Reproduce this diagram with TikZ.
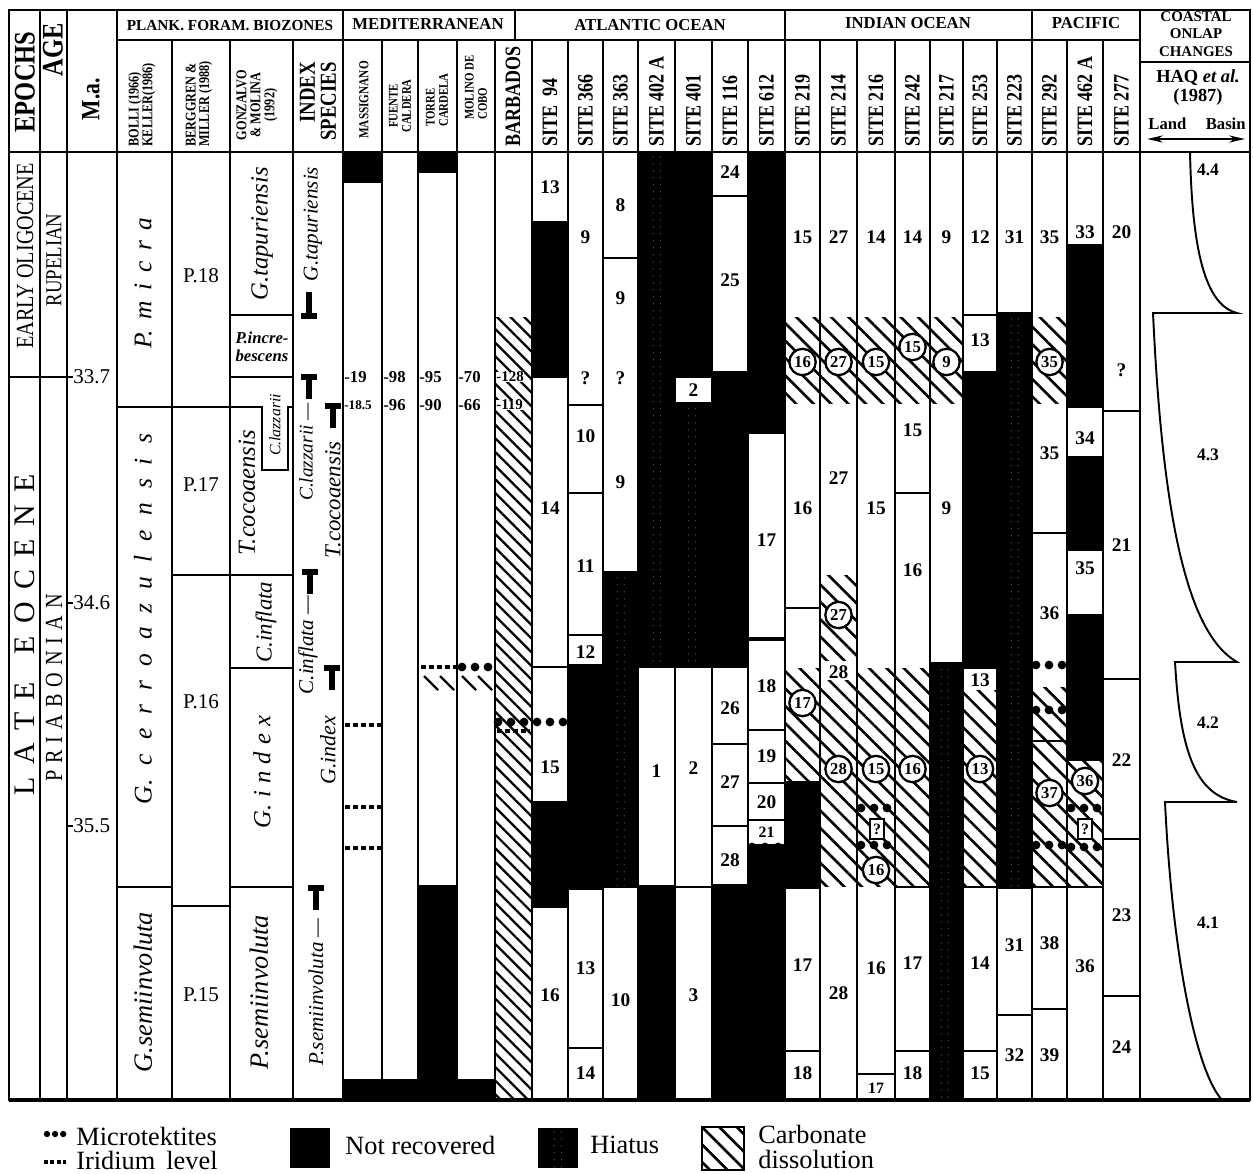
\documentclass[tikz,border=0pt]{standalone}
\usepackage{fontspec}
\setmainfont{Liberation Serif}
\newfontfamily\cond{Liberation Serif}[FakeStretch=0.82]
\usetikzlibrary{patterns.meta,arrows.meta}

\newcommand{\gap}{\hspace{7pt}}
% cells of the core columns
\newcommand{\cel}[4]{\draw[cell] (#1,#3) rectangle (#2,#4);}
\newcommand{\blk}[4]{\fill[black] (#1,#3) rectangle (#2,#4);}
\newcommand{\hiat}[4]{\fill[black] (#1,#3) rectangle (#2,#4);
  \fill[stipple] ({(#1+#2)/2-6},#3) rectangle ({(#1+#2)/2+6},#4);}
\newcommand{\carbon}[4]{\fill[carb] (#1,#3) rectangle (#2,#4);}
% range markers
\newcommand{\rtop}[2]{\draw[tmark] (#1-8,#2) -- (#1+8,#2) (#1,#2) -- (#1,#2+22);}
\newcommand{\rbase}[2]{\draw[tmark] (#1-8,#2) -- (#1+8,#2) (#1,#2) -- (#1,#2-24);}

\tikzset{
  rule/.style={line width=1.1pt},
  cell/.style={draw, fill=white, line width=1.1pt},
  carb/.style={pattern={Lines[angle=-45,distance=7pt,line width=1.5pt]}},
  denscarb/.style={pattern={Lines[angle=-45,distance=5.5pt,line width=1.3pt]}},
  stipple/.style={pattern={Dots[radius=0.3pt,distance=4pt]}, pattern color=gray!70},
  micro/.style={line width=5pt, line cap=round, dash pattern=on 0pt off 7.4pt},
  irid/.style={line width=2.3pt, dash pattern=on 2.8pt off 1.7pt},
  tmark/.style={line width=3pt},
  numlab/.style={font=\bfseries\fontsize{11}{11}\selectfont, inner sep=0.5pt},
  circlab/.style={circle, draw, fill=white, line width=1.3pt, inner sep=0pt, minimum size=15pt, font=\bfseries\fontsize{9.5}{9.5}\selectfont},
  qbox/.style={draw, fill=white, line width=1pt, inner sep=0.5pt, minimum width=8pt, minimum height=11pt, font=\bfseries\fontsize{9}{9}\selectfont},
  vallab/.style={anchor=west, inner sep=0pt, font=\bfseries\fontsize{9.5}{9.5}\selectfont},
  head/.style={rotate=90, anchor=west, inner sep=0pt, font=\cond\bfseries\fontsize{12.5}{12.5}\selectfont},
  grp/.style={inner sep=0pt, font=\bfseries\fontsize{9.5}{9.5}\selectfont},
  zone/.style={rotate=90, inner sep=0pt, font=\itshape\fontsize{14}{14}\selectfont},
  ispec/.style={rotate=90, inner sep=0pt, font=\itshape\fontsize{12}{12}\selectfont},
  legtext/.style={anchor=west, inner sep=0pt, font=\fontsize{15}{15}\selectfont},
}

\begin{document}
\begin{tikzpicture}[x=0.02cm, y=-0.02cm]
\useasboundingbox (0,0) rectangle (1253,1173);

	% not recovered and hiatus
\blk{343}{382}{152}{182} \blk{343}{382}{1080}{1100}
\blk{382}{418}{1080}{1100}
\blk{418}{457}{152}{172} \blk{418}{457}{886}{1100}
\blk{457}{495}{1080}{1100}
\blk{532}{568}{222}{377} \blk{532}{568}{802}{907}
\blk{568}{603}{665}{889}
\hiat{603}{638}{572}{887}
\hiat{638}{675}{152}{667} \blk{638}{675}{886}{1100}
\blk{675}{712}{152}{377} \hiat{675}{712}{403}{667}
\blk{712}{748}{372}{667} \blk{712}{748}{885}{1100}
\blk{748}{785}{152}{433} \blk{748}{785}{845}{1100}
\blk{785}{820}{782}{888}
\hiat{930}{963}{663}{1100}
\blk{963}{997}{372}{668}
\hiat{997}{1032}{313}{888}
\blk{1067}{1103}{245}{407} \blk{1067}{1103}{457}{550} \blk{1067}{1103}{615}{760}

	% mediterranean sections
\cel{343}{382}{182}{1080}
\cel{382}{418}{152}{1080}
\cel{418}{457}{172}{886}
\cel{457}{495}{152}{1080}
\cel{495}{532}{152}{1100}

	% atlantic sites
\cel{532}{568}{152}{222} \cel{532}{568}{377}{667} \cel{532}{568}{667}{802} \cel{532}{568}{907}{1100}
\cel{568}{603}{152}{405} \cel{568}{603}{405}{493} \cel{568}{603}{493}{635} \cel{568}{603}{635}{665}
\cel{568}{603}{889}{1048} \cel{568}{603}{1048}{1100}
\cel{603}{638}{152}{258} \cel{603}{638}{258}{572} \cel{603}{638}{887}{1100}
\cel{638}{675}{667}{886}
\cel{675}{712}{377}{403} \cel{675}{712}{667}{887} \cel{675}{712}{887}{1100}
\cel{712}{748}{152}{196} \cel{712}{748}{196}{372} \cel{712}{748}{667}{744} \cel{712}{748}{744}{826} \cel{712}{748}{826}{885}
\cel{748}{785}{433}{638} \cel{748}{785}{640}{730} \cel{748}{785}{730}{783} \cel{748}{785}{783}{820} \cel{748}{785}{820}{845}

	% indian ocean sites
\cel{785}{820}{152}{608} \cel{785}{820}{608}{782} \cel{785}{820}{888}{1051} \cel{785}{820}{1051}{1100}
\cel{820}{857}{152}{1100}
\cel{857}{895}{152}{1074} \cel{857}{895}{1074}{1100}
\cel{895}{930}{152}{493} \cel{895}{930}{493}{887} \cel{895}{930}{887}{1051} \cel{895}{930}{1051}{1100}
\cel{930}{963}{152}{663}
\cel{963}{997}{152}{315} \cel{963}{997}{315}{372} \cel{963}{997}{668}{887} \cel{963}{997}{887}{1051} \cel{963}{997}{1051}{1100}
\cel{997}{1032}{152}{313} \cel{997}{1032}{888}{1015} \cel{997}{1032}{1015}{1100}

	% pacific sites
\cel{1032}{1067}{152}{533} \cel{1032}{1067}{533}{741} \cel{1032}{1067}{741}{887} \cel{1032}{1067}{887}{1009} \cel{1032}{1067}{1009}{1100}
\cel{1067}{1103}{152}{245} \cel{1067}{1103}{407}{457} \cel{1067}{1103}{550}{615} \cel{1067}{1103}{760}{887} \cel{1067}{1103}{887}{1100}
\cel{1103}{1140}{152}{411} \cel{1103}{1140}{411}{679} \cel{1103}{1140}{679}{839} \cel{1103}{1140}{839}{996} \cel{1103}{1140}{996}{1100}

	% carbonate dissolution
\fill[denscarb] (495,317) rectangle (532,1100);
\foreach \l/\r in {785/820, 820/857, 857/895, 895/930, 930/963, 1032/1067}
  \carbon{\l}{\r}{317}{403};
\carbon{785}{820}{668}{782}
\carbon{820}{857}{575}{660} \carbon{820}{857}{680}{886}
\carbon{857}{895}{668}{886}
\carbon{895}{930}{668}{886}
\carbon{963}{997}{690}{886}
\carbon{1032}{1067}{687}{741} \carbon{1032}{1067}{741}{887}
\carbon{1067}{1103}{760}{887}
\draw[line width=1.4pt] (424,676) -- (438,690) (440,676) -- (454,690) (462,676) -- (476,690) (478,676) -- (492,690);

	% microtektites and iridium
\draw[irid] (345,725) -- (381,725) (345,807) -- (381,807) (345,848) -- (381,848);
\draw[irid] (421,667) -- (456,667);
\draw[micro] (462,667) -- (492,667);
\draw[micro] (498,722) -- (566,722);
\draw[irid] (497,731) -- (530,731);
\draw[micro] (752,847) -- (782,847);
\draw[micro] (861,808) -- (891,808) (861,845) -- (891,845);
\draw[micro] (1036,665) -- (1064,665) (1036,710) -- (1064,710) (1036,845) -- (1064,845);
\draw[micro] (1071,808) -- (1100,808) (1071,847) -- (1100,847);

	% frame and column rules
\draw[rule] (9,10) rectangle (1250,1100);
\draw[line width=2.5pt] (9,1100) -- (1250,1100);
\draw[rule] (9,152) -- (1250,152);
\draw[rule] (117,40) -- (1140,40);
\draw[rule] (515,10) -- (515,40);
\foreach \x in {40, 67, 117, 343, 785, 1032, 1140}
  \draw[rule] (\x,10) -- (\x,1100);
\foreach \x in {172, 230, 293, 382, 418, 457, 495, 532, 568, 603, 638, 675, 712, 748, 820, 857, 895, 930, 963, 997, 1067, 1103}
  \draw[rule] (\x,40) -- (\x,1100);

	% zone boundaries
\draw[rule] (9,377) -- (73,377);
\draw[rule] (67,603) -- (73,603) (67,826) -- (73,826);
\draw[rule] (117,407) -- (262,407) -- (262,470) -- (288,470) -- (288,407) -- (293,407);
\draw[rule] (117,887) -- (172,887);
\draw[rule] (172,575) -- (293,575);
\draw[rule] (172,906) -- (230,906);
\draw[rule] (230,315) -- (293,315) (230,377) -- (293,377) (230,668) -- (293,668) (230,887) -- (293,887);

	% header
\node[rotate=90, inner sep=0pt, font=\cond\bfseries\fontsize{17}{17}\selectfont] (epochs) at (25,82) {EPOCHS};
\node[rotate=90, inner sep=0pt, font=\cond\bfseries\fontsize{17}{17}\selectfont] (age) at (53,50) {AGE};
\node[rotate=90, inner sep=0pt, font=\cond\bfseries\fontsize{15}{15}\selectfont] (ma) at (91,99) {M.a.};
\node[grp, font=\bfseries\fontsize{8.7}{8.7}\selectfont] (plank) at (230,26) {PLANK. FORAM. BIOZONES};
\node[grp] (med) at (428,24) {MEDITERRANEAN};
\node[grp] (atl) at (650,25) {ATLANTIC OCEAN};
\node[grp] (ind) at (908,23) {INDIAN OCEAN};
\node[grp] (pac) at (1086,23) {PACIFIC};
\node[head, align=left, font=\cond\bfseries\fontsize{8.5}{7.8}\selectfont] (bolli) at (142,147) {BOLLI (1966)\\KELLER(1986)};
\node[head, align=left, font=\cond\bfseries\fontsize{8.5}{7.8}\selectfont] (berg) at (199,147) {BERGGREN \&\\MILLER (1988)};
\node[rotate=90, inner sep=0pt, align=center, font=\cond\bfseries\fontsize{8.5}{8}\selectfont] (gonz) at (257,105) {GONZALVO\\\& MOLINA\\(1992)};
\node[rotate=90, anchor=east, inner sep=0pt, align=right, font=\cond\bfseries\fontsize{13}{12}\selectfont] (index) at (318,62) {INDEX\\SPECIES};
\node[head, font=\cond\bfseries\fontsize{7.8}{7.8}\selectfont] (mass) at (364,139) {MASSIGNANO};
\node[rotate=90, inner sep=0pt, align=center, font=\cond\bfseries\fontsize{7.5}{7.5}\selectfont] (fuen) at (400,106) {FUENTE\\CALDERA};
\node[head, align=left, font=\cond\bfseries\fontsize{7.5}{7.5}\selectfont] (torre) at (437,127) {TORRE\\CARDELA};
\node[head, align=left, font=\cond\bfseries\fontsize{7.5}{7.5}\selectfont] (molino) at (476,120) {MOLINO DE\\COBO};
\foreach \x/\t [count=\i] in {513/BARBADOS, 550/SITE\ \ 94, 585.5/SITE 366, 620.5/SITE 363, 656.5/SITE 402 A,
    693.5/SITE 401, 730/SITE 116, 766.5/SITE 612, 802.5/SITE 219, 838.5/SITE 214, 876/SITE 216,
    912.5/SITE 242, 946.5/SITE 217, 980/SITE 253, 1014.5/SITE 223, 1049.5/SITE 292, 1085/SITE 462 A, 1121.5/SITE 277}
  \node[head] (site\i) at (\x,147) {\t};
\draw[rule] (1140,62) -- (1250,62);
\node[inner sep=0pt, align=center, font=\bfseries\fontsize{8.5}{9.8}\selectfont] (coast) at (1196,34) {COASTAL\\ONLAP\\CHANGES};
\node[inner sep=0pt, font=\bfseries\fontsize{10.5}{10.5}\selectfont] (haq) at (1198,78) {HAQ \textit{et al.}};
\node[inner sep=0pt, font=\bfseries\fontsize{10.5}{10.5}\selectfont] (haqy) at (1198,97) {(1987)};
\node[anchor=west, inner sep=0pt, font=\bfseries\fontsize{9.5}{9.5}\selectfont] (land) at (1148,124) {Land};
\node[anchor=east, inner sep=0pt, font=\bfseries\fontsize{9.5}{9.5}\selectfont] (basin) at (1246,124) {Basin};
\draw[line width=1.4pt, {Stealth[length=9pt,width=4pt]}-{Stealth[length=9pt,width=4pt]}] (1147,139) -- (1245,139);

	% epochs, ages, ages in m.a.
\node[rotate=90, inner sep=0pt, font=\cond\fontsize{14}{14}\selectfont] (early) at (25,256) {EARLY OLIGOCENE};
\node[rotate=90, inner sep=0pt, font=\fontsize{17}{17}\selectfont] (late) at (25,635)
  {L\gap A\gap T\gap E\hspace{16pt}E\gap O\gap C\gap E\gap N\gap E};
\node[rotate=90, inner sep=0pt, font=\cond\fontsize{13}{13}\selectfont] (rup) at (54,260) {RUPELIAN};
\node[rotate=90, inner sep=0pt, font=\cond\fontsize{14}{14}\selectfont] (pria) at (54,688)
  {P\hspace{4pt}R\hspace{4pt}I\hspace{4pt}A\hspace{4pt}B\hspace{4pt}O\hspace{4pt}N\hspace{4pt}I\hspace{4pt}A\hspace{4pt}N};
\foreach \y/\t [count=\i] in {377/33.7, 603/34.6, 826/35.5}
  \node[anchor=west, inner sep=0pt, font=\fontsize{12}{12}\selectfont] (ma\i) at (73,\y) {\t};

	% biozones
\node[zone, font=\itshape\fontsize{14.5}{14.5}\selectfont] (pmic) at (143,283)
  {P.\hspace{6pt}m\hspace{6pt}i\hspace{6pt}c\hspace{6pt}r\hspace{6pt}a};
\node[zone, font=\itshape\fontsize{14.5}{14.5}\selectfont] (gcer) at (143,619)
  {G.\hspace{8pt}c\hspace{8pt}e\hspace{8pt}r\hspace{8pt}r\hspace{8pt}o\hspace{8pt}a\hspace{8pt}z\hspace{8pt}u\hspace{8pt}l\hspace{8pt}e\hspace{8pt}n\hspace{8pt}s\hspace{8pt}i\hspace{8pt}s};
\node[zone, font=\itshape\fontsize{15}{15}\selectfont] (gsemi) at (143,992) {G.semiinvoluta};
\foreach \y/\t [count=\i] in {276/P.18, 485/P.17, 702/P.16, 995/P.15}
  \node[inner sep=0pt, font=\fontsize{12}{12}\selectfont] (pz\i) at (201,\y) {\t};
\node[zone] (gtap) at (262,234) {G.tapuriensis};
\node[inner sep=0pt, align=left, font=\itshape\bfseries\fontsize{9.5}{10.5}\selectfont] (pinc) at (262,347) {P.incre-\\bescens};
\node[zone] (tcoc) at (247,493) {T.cocoaensis};
\node[zone, font=\itshape\fontsize{9}{9}\selectfont] (claz) at (275,425) {C.lazzarii};
\node[zone, font=\itshape\fontsize{13}{13}\selectfont] (cinf) at (266,622) {C.inflata};
\node[zone] (gind) at (262,772) {G.\hspace{4pt}i\hspace{4pt}n\hspace{4pt}d\hspace{4pt}e\hspace{4pt}x};
\node[zone, font=\itshape\fontsize{15}{15}\selectfont] (psemi) at (259,992) {P.semiinvoluta};

	% index species
\node[ispec] (xgtap) at (313,224) {G.tapuriensis};
\rbase{309}{316}
\rtop{309}{377}
\node[ispec, font=\itshape\fontsize{11}{11}\selectfont] (xclaz) at (306,452) {C.lazzarii ---};
\rtop{333}{406}
\node[ispec, font=\itshape\fontsize{13}{13}\selectfont] (xtcoc) at (333,500) {T.cocoaensis};
\rtop{310}{572}
\node[ispec] (xcinf) at (308,645) {C.inflata ---};
\rtop{332}{668}
\node[ispec, font=\itshape\fontsize{12.5}{12.5}\selectfont] (xgind) at (328,750) {G.index};
\rtop{316}{888}
\node[ispec] (xpsemi) at (316,992) {P.semiinvoluta ---};

	% mediterranean levels
\foreach \x/\a/\b [count=\i] in {344/-19/-18.5, 383/-98/-96, 419/-95/-90, 458/-70/-66}{
  \node[vallab] (up\i) at (\x,377) {\a};
  \node[vallab, font=\bfseries\fontsize{\ifnum\i=1 7.5\else 9.5\fi}{9}\selectfont] (lo\i) at (\x,405) {\b};
}
\node[vallab, fill=white, font=\bfseries\fontsize{8.5}{8.5}\selectfont] (up5) at (496,377) {-128};
\node[vallab, fill=white, font=\bfseries\fontsize{8.5}{8.5}\selectfont] (lo5) at (496,405) {-119};

	% sample numbers
\foreach \y/\t [count=\i] in {187/13, 508/14, 767/15, 995/16}
  \node[numlab] (s94n\i) at (550,\y) {\t};
\foreach \y/\t [count=\i] in {237/9, 378/?, 436/10, 566/11, 652/12, 968/13, 1073/14}
  \node[numlab] (s366n\i) at (585.5,\y) {\t};
\foreach \y/\t [count=\i] in {205/8, 298/9, 378/?, 482/9, 1000/10}
  \node[numlab] (s363n\i) at (620.5,\y) {\t};
\node[numlab] (s402n1) at (656.5,771) {1};
\foreach \y/\t [count=\i] in {390/2, 768/2, 995/3}
  \node[numlab] (s401n\i) at (693.5,\y) {\t};
\foreach \y/\t [count=\i] in {172/24, 280/25, 708/26, 782/27, 860/28}
  \node[numlab] (s116n\i) at (730,\y) {\t};
\foreach \y/\t [count=\i] in {540/17, 686/18, 756/19, 802/20}
  \node[numlab] (s612n\i) at (766.5,\y) {\t};
\node[numlab, font=\bfseries\fontsize{9}{9}\selectfont] (s612n5) at (766.5,832) {21};
\foreach \y/\t [count=\i] in {237/15, 508/16, 965/17, 1073/18}
  \node[numlab] (s219n\i) at (802.5,\y) {\t};
\foreach \y/\t [count=\i] in {237/27, 478/27, 672/28, 993/28}
  \node[numlab] (s214n\i) at (838.5,\y) {\t};
\foreach \y/\t [count=\i] in {237/14, 508/15, 968/16}
  \node[numlab] (s216n\i) at (876,\y) {\t};
\node[numlab, font=\bfseries\fontsize{9}{9}\selectfont] (s216n4) at (876,1088) {17};
\foreach \y/\t [count=\i] in {237/14, 430/15, 570/16, 963/17, 1073/18}
  \node[numlab] (s242n\i) at (912.5,\y) {\t};
\foreach \y/\t [count=\i] in {237/9, 508/9}
  \node[numlab] (s217n\i) at (946.5,\y) {\t};
\foreach \y/\t [count=\i] in {237/12, 340/13, 680/13, 963/14, 1073/15}
  \node[numlab] (s253n\i) at (980,\y) {\t};
\foreach \y/\t [count=\i] in {237/31, 945/31, 1055/32}
  \node[numlab] (s223n\i) at (1014.5,\y) {\t};
\foreach \y/\t [count=\i] in {237/35, 453/35, 613/36, 943/38, 1055/39}
  \node[numlab] (s292n\i) at (1049.5,\y) {\t};
\foreach \y/\t [count=\i] in {232/33, 438/34, 568/35, 966/36}
  \node[numlab] (s462n\i) at (1085,\y) {\t};
\foreach \y/\t [count=\i] in {232/20, 370/?, 545/21, 760/22, 915/23, 1047/24}
  \node[numlab] (s277n\i) at (1121.5,\y) {\t};

	% circled samples in dissolved levels
\foreach \x/\y/\t [count=\i] in {802.5/362/16, 802.5/703/17, 838.5/362/27, 838.5/615/27, 838.5/769/28,
    876/362/15, 876/769/15, 876/870/16, 912.5/347/15, 912.5/769/16, 946.5/362/9, 980/769/13,
    1049.5/362/35, 1049.5/793/37, 1085/781/36}
  \node[circlab] (ring\i) at (\x,\y) {\t};
\node[qbox] (q216) at (877,829) {?};
\node[qbox] (q462) at (1085,829) {?};

	% coastal onlap
\draw[rule] (1190,152) .. controls (1192,250) and (1205,305) .. (1237,313) -- (1153,313)
  .. controls (1163,530) and (1190,635) .. (1237,662) -- (1175,662)
  .. controls (1180,750) and (1195,795) .. (1237,802) -- (1165,802)
  .. controls (1172,950) and (1195,1070) .. (1222,1100);
\foreach \y/\t [count=\i] in {170/4.4, 455/4.3, 723/4.2, 923/4.1}
  \node[inner sep=0pt, font=\bfseries\fontsize{10}{10}\selectfont] (seq\i) at (1208,\y) {\t};

	% legend
\draw[line width=3.6pt, line cap=round, dash pattern=on 0pt off 4.6pt] (47,1134) -- (64,1134);
\node[legtext] (lmic) at (76,1136) {Microtektites};
\draw[line width=2.2pt, dash pattern=on 2.2pt off 1.4pt] (44,1162) -- (66,1162);
\node[legtext] (lirid) at (76,1160) {Iridium\, level};
\fill[black] (290,1128) rectangle (330,1168);
\node[legtext] (lnr) at (345,1145) {Not recovered};
\hiat{538}{578}{1128}{1168}
\node[legtext] (lhia) at (590,1145) {Hiatus};
\draw[line width=1.5pt, carb] (702,1127) rectangle (744,1170);
\node[legtext] (lcarb) at (758,1134) {Carbonate};
\node[legtext] (ldiss) at (758,1159) {dissolution};

\end{tikzpicture}
\end{document}
